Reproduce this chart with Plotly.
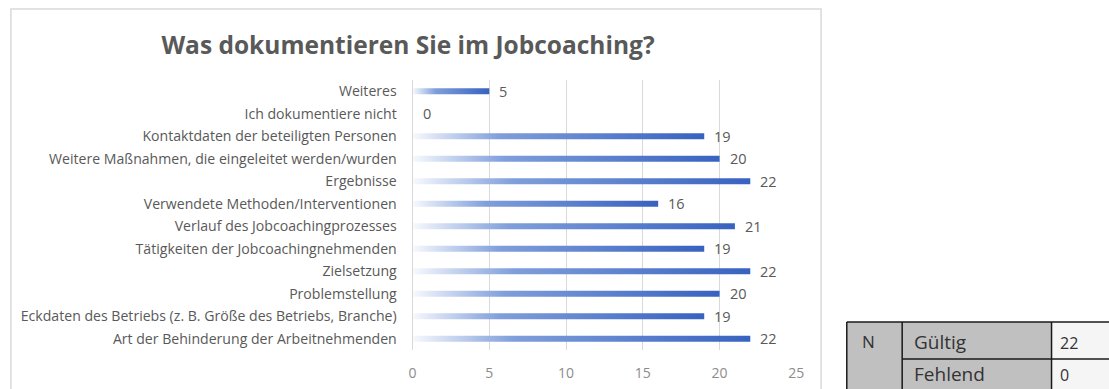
import plotly.graph_objects as go

# Survey answers, listed top to bottom as they appear in the chart
categories = [
    "Weiteres",
    "Ich dokumentiere nicht",
    "Kontaktdaten der beteiligten Personen",
    "Weitere Maßnahmen, die eingeleitet werden/wurden",
    "Ergebnisse",
    "Verwendete Methoden/Interventionen",
    "Verlauf des Jobcoachingprozesses",
    "Tätigkeiten der Jobcoachingnehmenden",
    "Zielsetzung",
    "Problemstellung",
    "Eckdaten des Betriebs (z. B. Größe des Betriebs, Branche)",
    "Art der Behinderung der Arbeitnehmenden",
]
counts = [5, 0, 19, 20, 22, 16, 21, 19, 22, 20, 19, 22]
x_ticks = [0, 5, 10, 15, 20, 25]

# Summary table next to the chart
table_group = "N"
table_rows = ["Gültig", "Fehlend"]
table_values = ["22", "0"]

W, H = 1109, 389
FONT = "Open Sans"
GREY = "#595959"

n = len(categories)
ypos = [n - 1 - i for i in range(n)]   # first category at the top
half = 0.135                             # half bar thickness in category units

fig = go.Figure()

# Bars as filled shapes so each one can carry a left-to-right gradient
for v, y in zip(counts, ypos):
    if v <= 0:
        continue
    fig.add_trace(go.Scatter(
        x=[0, v, v, 0, 0],
        y=[y - half, y - half, y + half, y + half, y - half],
        mode="lines",
        line=dict(width=0),
        fill="toself",
        fillgradient=dict(
            type="horizontal",
            colorscale=[[0, "#f7f9fd"], [0.3, "#7f9edb"], [1, "#3862c0"]],
        ),
        hoverinfo="skip",
        showlegend=False,
    ))

# Value labels at the end of each bar
for v, y in zip(counts, ypos):
    fig.add_annotation(
        x=v, y=y, text=str(v), showarrow=False,
        xanchor="left", yanchor="middle", xshift=8,
        font=dict(family=FONT, size=14.5, color=GREY),
    )

fig.update_xaxes(
    domain=[413 / W, 801 / W],
    range=[0, 25],
    tickvals=x_ticks,
    ticktext=[str(t) for t in x_ticks],
    showgrid=True, gridcolor="#d9d9d9", gridwidth=1,
    zeroline=False, showline=False, ticks="",
    tickfont=dict(family=FONT, size=14, color="#8c8c8c"),
    ticklabelstandoff=13,
    fixedrange=True,
)
fig.update_yaxes(
    domain=[(H - 350) / H, (H - 80) / H],
    range=[-0.5, n - 0.5],
    tickvals=ypos,
    ticktext=categories,
    showgrid=False, zeroline=False,
    showline=True, linecolor="#d9d9d9", linewidth=1,
    ticks="",
    tickfont=dict(family=FONT, size=14.1, color=GREY),
    ticklabelstandoff=12,
    fixedrange=True,
)

shapes = []
# Chart frame
shapes.append(dict(type="rect", xref="paper", yref="paper",
                   x0=7 / W, x1=826 / W, y0=-0.05, y1=(H - 9) / H,
                   line=dict(color="#d9d9d9", width=1.5), fillcolor="rgba(0,0,0,0)",
                   layer="below"))

# Summary table (cells in pixel positions converted to paper fractions)
def px(x):
    return x / W

def py(y):
    return (H - y) / H

tl, c1, c2, tr = 852, 908, 1059, 1120
t0, t1, t2 = 322, 359, 400
shapes.append(dict(type="rect", xref="paper", yref="paper",
                   x0=px(tl), x1=px(c2), y0=py(t2), y1=py(t0),
                   fillcolor="#c0c0c0", line=dict(width=0), layer="below"))
shapes.append(dict(type="rect", xref="paper", yref="paper",
                   x0=px(c2), x1=px(tr), y0=py(t2), y1=py(t0),
                   fillcolor="#f5f5f5", line=dict(width=0), layer="below"))
for x0, x1, y0, y1 in [
    (tl, tr, t0, t0), (c1, tr, t1, t1),
    (tl, tl, t0, t2), (c1, c1, t0, t2), (c2, c2, t0, t2),
]:
    shapes.append(dict(type="line", xref="paper", yref="paper",
                       x0=px(x0), x1=px(x1), y0=py(y0), y1=py(y1),
                       line=dict(color="#1a1a1a", width=1.5)))
fig.update_layout(shapes=shapes)

table_font = dict(family=FONT, size=19, color="#333333")
fig.add_annotation(xref="paper", yref="paper", x=px(865), y=py(341),
                   text=table_group, showarrow=False, xanchor="left", yanchor="middle",
                   font=dict(family=FONT, size=17, color="#333333"))
for label, val, yc in zip(table_rows, table_values, [342, 374]):
    fig.add_annotation(xref="paper", yref="paper", x=px(918), y=py(yc),
                       text=label, showarrow=False, xanchor="left", yanchor="middle",
                       font=table_font)
    fig.add_annotation(xref="paper", yref="paper", x=px(1066), y=py(yc + 1),
                       text=val, showarrow=False, xanchor="left", yanchor="middle",
                       font=dict(family=FONT, size=16, color="#333333"))

fig.update_layout(
    width=W, height=H,
    margin=dict(l=0, r=0, t=0, b=0),
    paper_bgcolor="white", plot_bgcolor="white",
    title=dict(text="<b>Was dokumentieren Sie im Jobcoaching?</b>",
               x=408 / W, xanchor="center", y=(H - 45) / H, yanchor="middle",
               font=dict(family=FONT, size=24.5, color=GREY)),
    showlegend=False,
)

fig.write_html("out.html")
